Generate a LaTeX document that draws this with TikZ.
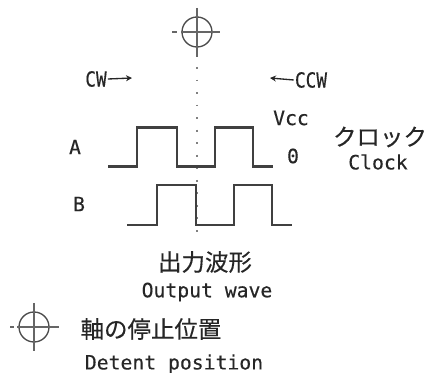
\documentclass[tikz,border=0pt]{standalone}
\usepackage{fontspec}
\setmainfont[FakeBold=0.35]{DejaVu Sans Mono}
\newfontfamily\cjk[FakeBold=0.3]{Noto Sans CJK JP}
\usetikzlibrary{arrows.meta}
\tikzset{
  x=0.75pt,y=-0.75pt,
  lbl/.style={inner sep=0pt,text=black!85,font=\fontsize{14.8pt}{16pt}\selectfont},
  jp/.style={inner sep=0pt,text=black!85,font=\cjk\fontsize{17.6pt}{19pt}\selectfont},
  wave/.style={line width=1.6pt,draw=black!75,line join=miter},
  sym/.style={line width=1pt,draw=black!70},
  cross/.style={line width=0.9pt,draw=black!60},
  dot/.style={line width=1.3pt,draw=black!50,dash pattern=on 1.4pt off 8pt},
  arr/.style={line width=1pt,draw=black!85,-{Stealth[length=4.5pt,width=4.5pt]}}
}
\begin{document}
\begin{tikzpicture}
\useasboundingbox (0,0) rectangle (426,373);
% top detent symbol
\coordinate (T) at (197,32);
\draw[sym] (T) circle[radius=15];
\draw[cross] (172,32) -- (177,32) (181,32) -- (220,32);
\draw[cross] (197,8) -- (197,57);
% dotted centre line
\coordinate (D1) at (197,67);
\coordinate (D2) at (197,234);
\draw[dot] (D1) -- (D2);
% labels
\node[lbl,xscale=.9,yscale=1.05] (cw) at (96,79) {CW};
\coordinate (cwe) at (132,78);
\draw[arr] (cw.east) ++(1,0) -- (cwe);
\node[lbl,xscale=.9,yscale=1.05] (ccw) at (311,80) {CCW};
\coordinate (ccwe) at (270,78);
\draw[arr] (ccw.west) ++(-1,0) -- (ccwe);
\node[lbl] (vcc) at (291,118) {Vcc};
\node[lbl] (zero) at (293,156) {0};
\node[lbl] (a) at (75,147) {A};
\node[lbl] (b) at (79,204) {B};
% waves
\draw[wave] (108,166.5) -- (137,166.5) -- (137,127.5) -- (177,127.5) -- (177,166.5) -- (215,166.5) -- (215,127.5) -- (253,127.5) -- (253,166.5) -- (273,166.5);
\draw[wave] (127,225) -- (157,225) -- (157,185) -- (196,185) -- (196,225) -- (234,225) -- (234,185) -- (272,185) -- (272,225) -- (292,225);
% clock
\node[jp] (ck) at (380,137) {クロック};
\node[lbl] (clock) at (378,162) {Clock};
% output wave
\node[jp] (ow) at (205,262) {出力波形};
\node[lbl] (owe) at (207,292) {Output wave};
% legend
\coordinate (L) at (34,327);
\draw[sym] (L) circle[radius=15];
\draw[cross] (10,327) -- (14,327) (17,327) -- (59,327);
\draw[cross] (34,303) -- (34,351);
\node[jp] (det) at (151,329) {軸の停止位置};
\node[lbl] (dete) at (174,364) {Detent position};
\end{tikzpicture}
\end{document}
